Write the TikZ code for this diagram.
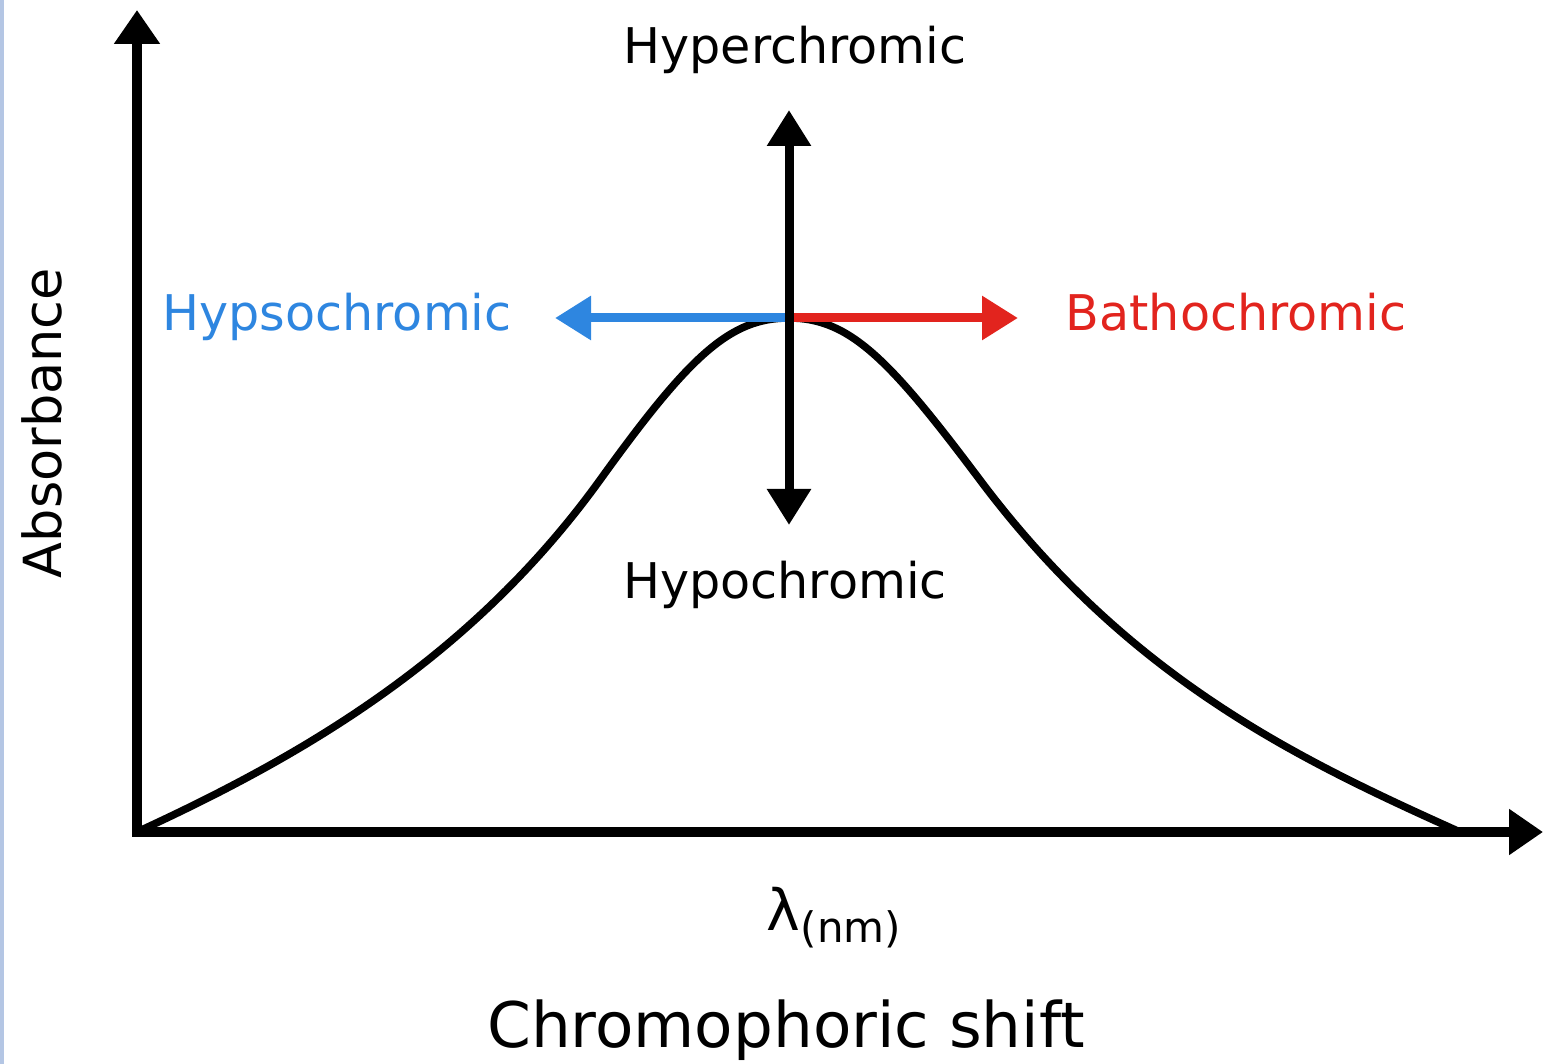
\documentclass[tikz,border=0pt]{standalone}
\usepackage{fontspec}
\setmainfont{DejaVu Sans}
\usetikzlibrary{arrows.meta}
\definecolor{stripblue}{RGB}{180,198,228}
\definecolor{hypblue}{RGB}{46,134,224}
\definecolor{batred}{RGB}{226,36,30}
\tikzset{
  axisline/.style={line width=10pt, -{Triangle[length=34pt,width=44pt]}},
  shiftarrow/.style={line width=9pt, -{Triangle[length=36pt,width=42pt]}},
  curveline/.style={line width=7.5pt, line join=round},
  lbl/.style={anchor=base, inner sep=0pt, font=\fontsize{49.2}{58}\selectfont},
  bigl/.style={anchor=base, inner sep=0pt, font=\fontsize{62.8}{72}\selectfont},
}
\begin{document}
\begin{tikzpicture}[x=1pt,y=-1pt]
\useasboundingbox (0,0) rectangle (1543,1064);
\fill[stripblue] (0,0) rectangle (4,1064);
% coordinates
\coordinate (O) at (137,832);
\coordinate (ytop) at (137,10);
\coordinate (xend) at (1543,832);
\coordinate (peak) at (789,318);
\coordinate (uptip) at (789,110);
\coordinate (downtip) at (789,525);
\coordinate (lefttip) at (555,318);
\coordinate (righttip) at (1018,318);
\coordinate (cend) at (1460,832);
% curve
\draw[curveline] (O) .. controls (300,757) and (470,660) .. (600,480)
  .. controls (690,355) and (730,318) .. (peak)
  .. controls (850,318) and (890,360) .. (980,480)
  .. controls (1130,680) and (1300,760) .. (cend);
% axes
\draw[axisline, line cap=rect] (O) -- (ytop);
\draw[axisline] ([xshift=-5pt]O) -- (xend);
% shift arrows
\draw[shiftarrow, hypblue] (peak) -- (lefttip);
\draw[shiftarrow, batred] (peak) -- (righttip);
\draw[shiftarrow] (peak) -- (uptip);
\draw[shiftarrow] (peak) -- (downtip);
% labels
\node[lbl] (hyper) at (795,64) {Hyperchromic};
\node[lbl] (hypo) at (785,598) {Hypochromic};
\node[lbl, text=hypblue] (hyps) at (337,331) {Hypsochromic};
\node[lbl, text=batred] (bath) at (1236,331) {Bathochromic};
\node[anchor=base, inner sep=0pt, rotate=90, font=\fontsize{52.5}{60}\selectfont] (abs) at (61,423) {Absorbance};
\node[anchor=base, inner sep=0pt] (lam) at (834,930) {\fontsize{57}{62}\selectfont λ\raisebox{-12pt}{\fontsize{42}{48}\selectfont (nm)}};
\node[bigl] (chrom) at (786,1047) {Chromophoric shift};
\end{tikzpicture}
\end{document}
